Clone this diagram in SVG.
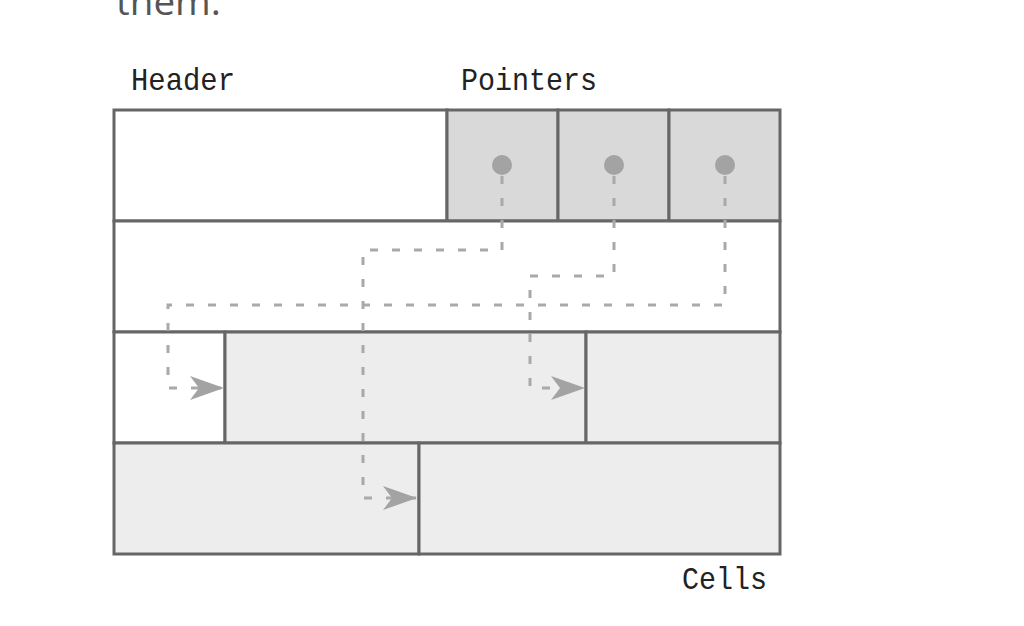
<svg xmlns="http://www.w3.org/2000/svg" width="1024" height="626" viewBox="0 0 1024 626">
<style>
.cell{stroke:#666;stroke-width:3}
.white{fill:#fff}
.ptr{fill:#d9d9d9}
.used{fill:#ededed}
.lbl{font-family:"Liberation Mono","DejaVu Sans Mono",monospace;font-size:32px;fill:#222}
.link{fill:none;stroke:#a9a9a9;stroke-width:3;stroke-dasharray:8 14}
.dot{fill:#a3a3a3}
</style>
<defs>
<marker id="arr" markerUnits="userSpaceOnUse" viewBox="-35 -13 36 26" refX="0" refY="0" markerWidth="36" markerHeight="26" orient="auto">
<path d="M0,0 L-34,-12 L-25,0 L-34,12 Z" fill="#a3a3a3"/>
</marker>
</defs>
<rect width="1024" height="626" fill="#fff"/>
<text x="116" y="15" font-family="'Open Sans','Noto Sans',sans-serif" font-size="37" fill="#555" textLength="105" lengthAdjust="spacingAndGlyphs">them.</text>
<text class="lbl" x="131" y="90" textLength="104" lengthAdjust="spacingAndGlyphs">Header</text>
<text class="lbl" x="461" y="90" textLength="136" lengthAdjust="spacingAndGlyphs">Pointers</text>
<text class="lbl" x="682" y="589" textLength="85" lengthAdjust="spacingAndGlyphs">Cells</text>
<g id="header"><rect class="cell white" x="114" y="110" width="333" height="111"/></g>
<g id="pointer1"><rect class="cell ptr" x="447" y="110" width="111" height="111"/></g>
<g id="pointer2"><rect class="cell ptr" x="558" y="110" width="111" height="111"/></g>
<g id="pointer3"><rect class="cell ptr" x="669" y="110" width="111" height="111"/></g>
<g id="free"><rect class="cell white" x="114" y="221" width="666" height="111"/></g>
<g id="cell3"><rect class="cell white" x="114" y="332" width="111" height="111"/></g>
<g id="cell3b"><rect class="cell used" x="225" y="332" width="361" height="111"/></g>
<g id="cell2"><rect class="cell used" x="586" y="332" width="194" height="111"/></g>
<g id="cell4"><rect class="cell used" x="114" y="443" width="305" height="111"/></g>
<g id="cell1"><rect class="cell used" x="419" y="443" width="361" height="111"/></g>
<g id="connectors">
<circle class="dot" cx="502" cy="165" r="10"/>
<circle class="dot" cx="614" cy="165" r="10"/>
<circle class="dot" cx="725" cy="165" r="10"/>
<path class="link" d="M502,176 V250 H363 V498 H417" marker-end="url(#arr)"/>
<path class="link" d="M614,176 V276 H530 V388 H585" marker-end="url(#arr)"/>
<path class="link" d="M725,176 V305 H168 V388 H224" marker-end="url(#arr)"/>
</g>
</svg>
